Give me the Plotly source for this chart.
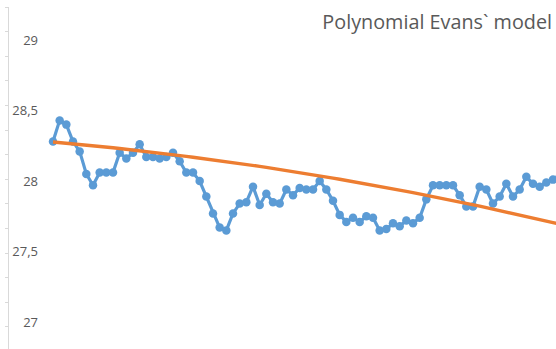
import plotly.graph_objects as go

# Observed temperature series and the polynomial (Evans) model fitted to it
observed = [
    28.28, 28.43, 28.40, 28.28, 28.21, 28.05, 27.97, 28.06, 28.06, 28.06,
    28.20, 28.16, 28.20, 28.26, 28.17, 28.17, 28.16, 28.17, 28.20, 28.14,
    28.06, 28.06, 28.00, 27.89, 27.77, 27.67, 27.65, 27.77, 27.84, 27.85,
    27.96, 27.83, 27.91, 27.85, 27.84, 27.94, 27.90, 27.95, 27.94, 27.94,
    28.00, 27.94, 27.86, 27.76, 27.71, 27.74, 27.71, 27.75, 27.74, 27.65,
    27.66, 27.70, 27.68, 27.72, 27.70, 27.74, 27.87, 27.97, 27.97, 27.97,
    27.97, 27.90, 27.82, 27.82, 27.96, 27.94, 27.84, 27.89, 27.98, 27.89,
    27.94, 28.03, 27.98, 27.96, 27.99, 28.01, 28.03,
]
model = [
    28.277, 28.273, 28.269, 28.264, 28.260, 28.255, 28.250, 28.246, 28.241, 28.236,
    28.231, 28.226, 28.221, 28.215, 28.210, 28.204, 28.199, 28.193, 28.187, 28.181,
    28.175, 28.169, 28.163, 28.157, 28.151, 28.144, 28.138, 28.131, 28.124, 28.118,
    28.111, 28.104, 28.097, 28.090, 28.082, 28.075, 28.068, 28.060, 28.052, 28.045,
    28.037, 28.029, 28.021, 28.013, 28.005, 27.996, 27.988, 27.980, 27.971, 27.962,
    27.954, 27.945, 27.936, 27.927, 27.918, 27.909, 27.899, 27.890, 27.880, 27.871,
    27.861, 27.851, 27.842, 27.832, 27.822, 27.811, 27.801, 27.791, 27.780, 27.770,
    27.759, 27.749, 27.738, 27.727, 27.716, 27.705, 27.694,
]
x_idx = list(range(len(observed)))
y_ticks = [27, 27.5, 28, 28.5, 29]

W, H = 556, 349
Y_RANGE = [26.809, 29.234]
AXIS_PX = 8          # axis line position
LABEL_PX = 38        # right edge anchor of tick labels
GREY = "#595959"
LINE_GREY = "#d9d9d9"

fig = go.Figure()
fig.add_trace(go.Scatter(
    x=x_idx, y=observed, mode="lines+markers",
    line=dict(color="#5b9bd5", width=3.2),
    marker=dict(color="#5b9bd5", size=8.5),
    cliponaxis=True, showlegend=False,
))
# model curve lives on the overlaid axis that carries the axis line
fig.add_trace(go.Scatter(
    x=x_idx, y=model, mode="lines", yaxis="y2",
    line=dict(color="#ed7d31", width=3.4),
    cliponaxis=True, showlegend=False,
))

fig.update_layout(
    width=W, height=H,
    margin=dict(l=0, r=0, t=0, b=0),
    paper_bgcolor="white", plot_bgcolor="white",
    separators=", ",
    font=dict(family="Open Sans", color=GREY),
    title=dict(
        text="Polynomial Evans` model",
        font=dict(family="Open Sans", size=19.8, color=GREY),
        x=552 / W, xref="container", xanchor="right",
        y=1 - 22 / H, yref="container", yanchor="middle",
    ),
    xaxis=dict(
        domain=[AXIS_PX / W, 1], range=[-6.75, 75.45],
        visible=False, showgrid=False, zeroline=False,
    ),
    yaxis=dict(
        domain=[0, 1 - 7 / H], range=Y_RANGE,
        anchor="free", position=LABEL_PX / W,
        tickmode="array", tickvals=y_ticks,
        ticks="", showline=False, showgrid=False, zeroline=False,
        tickfont=dict(family="Open Sans", size=13, color=GREY),
    ),
    yaxis2=dict(
        overlaying="y", matches="y", range=Y_RANGE,
        anchor="free", position=AXIS_PX / W, side="left",
        showline=True, linecolor=LINE_GREY, linewidth=1,
        tickmode="linear", tick0=29.234, dtick=0.1745,
        ticks="outside", ticklen=3, tickcolor=LINE_GREY, tickwidth=1,
        showticklabels=False, showgrid=False, zeroline=False,
    ),
)

fig.write_html("out.html")
